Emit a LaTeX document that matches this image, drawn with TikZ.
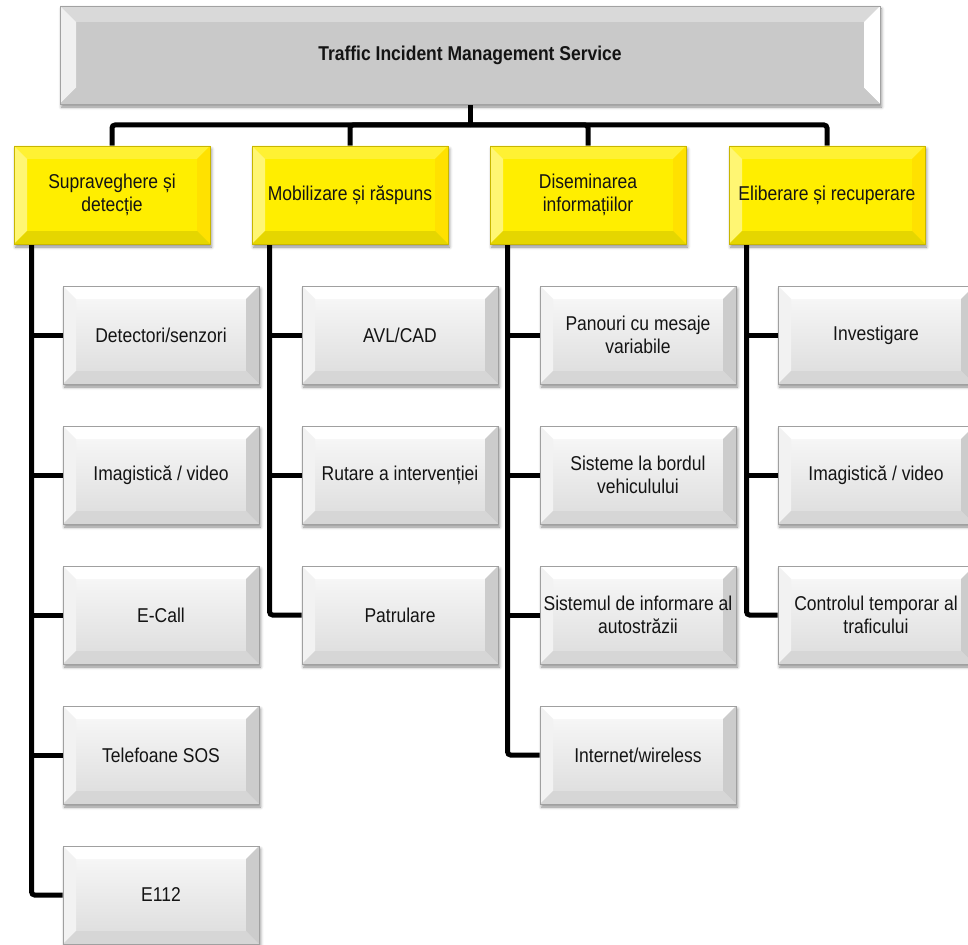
\documentclass[tikz,border=0pt]{standalone}
\usepackage{fontspec}
\setmainfont{Liberation Sans}[FakeStretch=0.875]
\usetikzlibrary{shadows.blur,backgrounds}

\definecolor{txt}{HTML}{141414}
\definecolor{grayface}{HTML}{C9C9C9}
\definecolor{grayedge}{HTML}{A2A2A2}
\definecolor{yelface}{HTML}{FFEE00}
\definecolor{yeledge}{HTML}{C8B600}
\definecolor{lightedge}{HTML}{A0A0A0}

\tikzset{
  % four bevel facets: size, top, left, right, bottom
  bevel/.style n args={5}{path picture={
    \path (path picture bounding box.north west) coordinate (q1)
          (path picture bounding box.north east) coordinate (q2)
          (path picture bounding box.south east) coordinate (q3)
          (path picture bounding box.south west) coordinate (q4);
    \fill[#2] (q1) -- (q2) -- ([shift={(-#1,-#1)}]q2) -- ([shift={(#1,-#1)}]q1) -- cycle;
    \fill[#3] (q1) -- ([shift={(#1,-#1)}]q1) -- ([shift={(#1,#1)}]q4) -- (q4) -- cycle;
    \fill[#4] (q2) -- (q3) -- ([shift={(-#1,#1)}]q3) -- ([shift={(-#1,-#1)}]q2) -- cycle;
    \fill[#5] (q4) -- (q3) -- ([shift={(-#1,#1)}]q3) -- ([shift={(#1,#1)}]q4) -- cycle;
  }},
  box/.style={rectangle, inner sep=0pt, align=center, text=txt,
    font=\fontsize{20pt}{23pt}\selectfont, line width=0.8pt,
    blur shadow={shadow xshift=1.5pt, shadow yshift=-3pt,
      shadow blur radius=3pt, shadow opacity=45}},
  topbox/.style={box, minimum width=820pt, minimum height=98pt,
    draw=grayedge, fill=grayface,
    bevel={16pt}{fill=gray!30!white}{fill=gray!12!white}{fill=white}{fill=gray!42!white}},
  yelbox/.style={box, minimum width=196pt, minimum height=98pt,
    draw=yeledge, fill=yelface,
    bevel={13pt}{fill=yelface!80!white}{fill=yelface!55!white}{fill=yelface!88!orange}{fill=yelface!90!black}},
  subbox/.style={box, minimum width=196pt, minimum height=98pt,
    draw=lightedge, top color=white!98!black, bottom color=white!86!black,
    bevel={13pt}{fill=white}{fill=white!95!black}{fill=white!80!black}{fill=white!84!black}},
  conn/.style={line width=5pt, black, rounded corners=3pt},
}

\begin{document}
\begin{tikzpicture}[x=1pt, y=-1pt]
\useasboundingbox (0,0) rectangle (968,944);
\clip (0,0) rectangle (968,944);

% root
\node[topbox] (top) at (470,55) {\textbf{Traffic Incident Management Service}};

% main branches
\node[yelbox] (s1) at (112,195) {Supraveghere și\\detecție};
\node[yelbox] (s2) at (350,195) {Mobilizare și răspuns};
\node[yelbox] (s3) at (588,195) {Diseminarea\\informațiilor};
\node[yelbox] (s4) at (827,195) {Eliberare și recuperare};

% first branch
\node[subbox] (a1) at (161,335) {Detectori/senzori};
\node[subbox] (a2) at (161,475) {Imagistică / video};
\node[subbox] (a3) at (161,615) {E-Call};
\node[subbox] (a4) at (161,755) {Telefoane SOS};
\node[subbox] (a5) at (161,895) {E112};

% second branch
\node[subbox] (b1) at (400,335) {AVL/CAD};
\node[subbox] (b2) at (400,475) {Rutare a intervenției};
\node[subbox] (b3) at (400,615) {Patrulare};

% third branch
\node[subbox] (c1) at (638,335) {Panouri cu mesaje\\variabile};
\node[subbox] (c2) at (638,475) {Sisteme la bordul\\vehiculului};
\node[subbox] (c3) at (638,615) {Sistemul de informare al\\autostrăzii};
\node[subbox] (c4) at (638,755) {Internet/wireless};

% fourth branch
\node[subbox] (d1) at (876,335) {Investigare};
\node[subbox] (d2) at (876,475) {Imagistică / video};
\node[subbox] (d3) at (876,615) {Controlul temporar al\\traficului};

\begin{scope}[on background layer]
  % bus under the root
  \coordinate (bus) at (470,125);
  \draw[conn] (top.south) -- (bus);
  \foreach \s in {s1,s2,s3,s4} \draw[conn] (\s.north) |- (bus);

  % spines down the left of each branch
  \coordinate (p1) at ([xshift=18pt]s1.south west);
  \coordinate (p2) at ([xshift=18pt]s2.south west);
  \coordinate (p3) at ([xshift=18pt]s3.south west);
  \coordinate (p4) at ([xshift=18pt]s4.south west);

  \draw[conn] (p1) |- (a5.west);
  \foreach \n in {a1,a2,a3,a4} \draw[conn] (\n.west) -- (\n.west -| p1);
  \draw[conn] (p2) |- (b3.west);
  \foreach \n in {b1,b2} \draw[conn] (\n.west) -- (\n.west -| p2);
  \draw[conn] (p3) |- (c4.west);
  \foreach \n in {c1,c2,c3} \draw[conn] (\n.west) -- (\n.west -| p3);
  \draw[conn] (p4) |- (d3.west);
  \foreach \n in {d1,d2} \draw[conn] (\n.west) -- (\n.west -| p4);
\end{scope}
\end{tikzpicture}
\end{document}
